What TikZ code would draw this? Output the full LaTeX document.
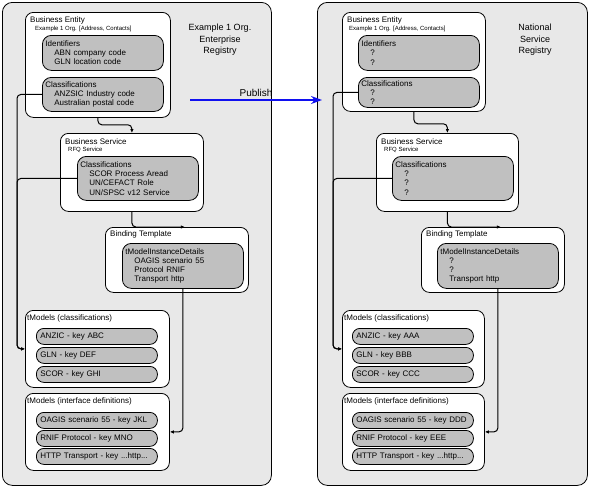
\documentclass[tikz,border=0pt]{standalone}
\usepackage{fontspec}
\setmainfont{Liberation Sans}
\usetikzlibrary{positioning,arrows.meta}
\definecolor{panelgrey}{RGB}{232,232,232}
\definecolor{itemgrey}{RGB}{192,192,192}
\definecolor{publishblue}{RGB}{16,16,240}
\newcommand{\sublead}{\hspace*{9pt}}

\begin{document}
\begin{tikzpicture}[
    x=1pt, y=-1pt,
    >={Latex[length=4pt,width=3.5pt]},
    panel/.style={
        draw,
        fill=panelgrey,
        rounded corners=10pt,
        anchor=north west,
        inner sep=0pt,
        line width=0.8pt
    },
    group/.style={
        draw,
        fill=white,
        rounded corners=8pt,
        anchor=north west,
        inner sep=0pt,
        line width=0.8pt
    },
    detail/.style={
        draw,
        fill=itemgrey,
        rounded corners=9pt,
        anchor=north west,
        align=left,
        text width=115pt,
        inner xsep=3pt,
        inner ysep=0pt,
        font=\fontsize{8}{9.2}\selectfont,
        line width=0.8pt
    },
    pill/.style={
        draw,
        fill=itemgrey,
        rounded corners=7.5pt,
        anchor=north west,
        align=left,
        text width=113pt,
        inner xsep=4pt,
        inner ysep=0pt,
        minimum height=16pt,
        font=\fontsize{8}{9}\selectfont,
        line width=0.8pt
    },
    head/.style={anchor=base west, inner sep=0pt, font=\fontsize{8}{9}\selectfont},
    sub/.style={anchor=base west, inner sep=0pt, font=\fontsize{6}{7}\selectfont},
    regname/.style={align=center, font=\fontsize{9}{11.5}\selectfont},
    link/.style={->, line width=1pt, rounded corners=4pt},
    publish/.style={-{Stealth[length=11pt,width=8pt]}, line width=1.4pt, draw=publishblue}
]
\useasboundingbox (0,0) rectangle (589,488);

% ENTERPRISE REGISTRY
\node[panel, minimum width=269pt, minimum height=483pt] (reg1) at (2,2) {};
\node[regname] (reg1name) at (220,40) {Example 1 Org.\\Enterprise\\Registry};

\node[group, minimum width=145pt, minimum height=105pt] (ent1) at (25,12) {};
\node[head] (ent1t) at (30,22) {Business Entity};
\node[sub] (ent1s) at (35,30) {Example 1 Org. [Address, Contacts]};
\node[detail, minimum height=35pt] (ids1) at (42,35)
{Identifiers\\\sublead ABN company code\\\sublead GLN location code};
\node[detail, minimum height=34pt] (cls1) at (42,77)
{Classifications\\\sublead ANZSIC Industry code\\\sublead Australian postal code};

\node[group, minimum width=143pt, minimum height=78pt] (svc1) at (60,133) {};
\node[head] (svc1t) at (65,144) {Business Service};
\node[sub] (svc1s) at (68,151) {RFQ Service};
\node[detail, minimum height=44pt] (scl1) at (77,156)
{Classifications\\\sublead SCOR Process Aread\\\sublead UN/CEFACT Role\\\sublead UN/SPSC v12 Service};

\node[group, minimum width=143pt, minimum height=65pt] (bind1) at (105,227) {};
\node[head] (bind1t) at (110,236) {Binding Template};
\node[detail, minimum height=45pt] (tmi1) at (122,243)
{tModelInstanceDetails\\\sublead OAGIS scenario 55\\\sublead Protocol RNIF\\\sublead Transport http};

\node[group, minimum width=144pt, minimum height=77pt] (tmc1) at (25,310) {};
\node[head] (tmc1t) at (27,320) {tModels (classifications)};
\node[pill] (tmc1a) at (36,328) {ANZIC - key ABC};
\node[pill] (tmc1b) at (36,347) {GLN - key DEF};
\node[pill] (tmc1c) at (36,366) {SCOR - key GHI};

\node[group, minimum width=144pt, minimum height=77pt] (tmd1) at (25,393) {};
\node[head] (tmd1t) at (27,403) {tModels (interface definitions)};
\node[pill] (tmd1a) at (36,412) {OAGIS scenario 55 - key JKL};
\node[pill] (tmd1b) at (36,430) {RNIF Protocol - key MNO};
\node[pill] (tmd1c) at (36,448) {HTTP Transport - key ...http...};

\draw[link] (ent1.south) -- ++(0,7) -| (svc1.north);
\draw[link] (svc1.south) |- ([xshift=8pt]bind1.north);
\draw[link] (cls1.west) -- ++(-25,0) |- (tmc1.west);
\draw[link] (scl1.west) -- ++(-60,0) |- (tmc1.west);
\draw[link] (tmi1.south) |- (tmd1.east);

% NATIONAL REGISTRY
\node[panel, minimum width=270pt, minimum height=483pt] (reg2) at (317,2) {};
\node[regname] (reg2name) at (535,40) {National\\Service\\Registry};

\node[group, minimum width=143pt, minimum height=99pt] (ent2) at (342,12) {};
\node[head] (ent2t) at (347,22) {Business Entity};
\node[sub] (ent2s) at (349,30) {Example 1 Org. [Address, Contacts]};
\node[detail, minimum height=35pt] (ids2) at (358,35)
{Identifiers\\\sublead ?\\\sublead ?};
\node[detail, minimum height=30pt] (cls2) at (358,77)
{Classifications\\\sublead ?\\\sublead ?};

\node[group, minimum width=142pt, minimum height=78pt] (svc2) at (376,133) {};
\node[head] (svc2t) at (381,144) {Business Service};
\node[sub] (svc2s) at (384,151) {RFQ Service};
\node[detail, minimum height=44pt] (scl2) at (392,156)
{Classifications\\\sublead ?\\\sublead ?\\\sublead ?};

\node[group, minimum width=143pt, minimum height=65pt] (bind2) at (421,227) {};
\node[head] (bind2t) at (426,236) {Binding Template};
\node[detail, minimum height=45pt] (tmi2) at (437,243)
{tModelInstanceDetails\\\sublead ?\\\sublead ?\\\sublead Transport http};

\node[group, minimum width=142pt, minimum height=77pt] (tmc2) at (342,310) {};
\node[head] (tmc2t) at (344,320) {tModels (classifications)};
\node[pill] (tmc2a) at (352,328) {ANZIC - key AAA};
\node[pill] (tmc2b) at (352,347) {GLN - key BBB};
\node[pill] (tmc2c) at (352,366) {SCOR - key CCC};

\node[group, minimum width=142pt, minimum height=77pt] (tmd2) at (342,393) {};
\node[head] (tmd2t) at (344,403) {tModels (interface definitions)};
\node[pill] (tmd2a) at (352,412) {OAGIS scenario 55 - key DDD};
\node[pill] (tmd2b) at (352,430) {RNIF Protocol - key EEE};
\node[pill] (tmd2c) at (352,448) {HTTP Transport - key ...http...};

\draw[link] (ent2.south) -- ++(0,12) -| (svc2.north);
\draw[link] (svc2.south) |- ([xshift=8pt]bind2.north);
\draw[link] (cls2.west) -- ++(-25,0) |- (tmc2.west);
\draw[link] (scl2.west) -- ++(-59,0) |- (tmc2.west);
\draw[link] (tmi2.south) |- (tmd2.east);

% PUBLISH
\coordinate (pubfrom) at (190,100);
\coordinate (pubto) at (322,100);
\draw[publish] (pubfrom) -- node[above, inner sep=3pt, font=\fontsize{10}{12}\selectfont] (publbl) {Publish} (pubto);

\end{tikzpicture}
\end{document}
